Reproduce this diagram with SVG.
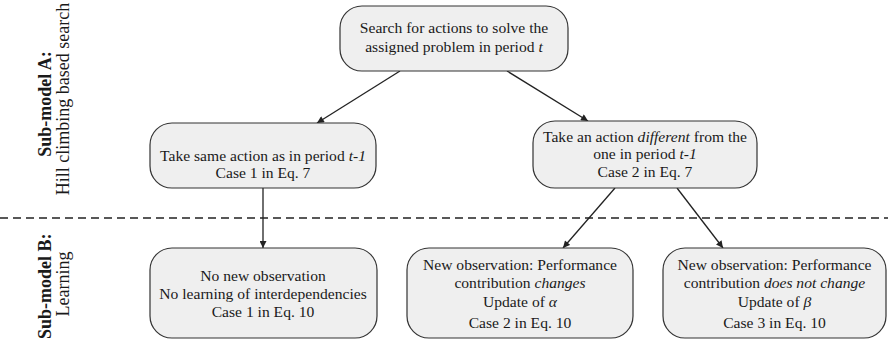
<svg xmlns="http://www.w3.org/2000/svg" width="888" height="340" viewBox="0 0 888 340">
<style>
.box{fill:#efefef;stroke:#333;stroke-width:1.2}
.t text{fill:#1a1a1a;text-anchor:middle}
.b{font-weight:bold}
.i{font-style:italic}
.c{stroke:#222;stroke-width:1.3;fill:none;marker-end:url(#ah)}
</style>
<defs>
<marker id="ah" viewBox="0 0 10 10" refX="10" refY="5" markerWidth="8" markerHeight="7" markerUnits="userSpaceOnUse" orient="auto">
<path d="M0,0 L10,5 L0,10 z" fill="#222"/>
</marker>
</defs>
<g class="t" font-family="Liberation Serif, serif" font-size="15.6">
<g id="labels" font-size="18">
<text class="b" transform="translate(51,104) rotate(-90)">Sub-model A:</text>
<text transform="translate(69,99) rotate(-90)">Hill climbing based search</text>
<text class="b" style="text-anchor:start" transform="translate(51,339) rotate(-90)">Sub-model B:</text>
<text transform="translate(69,284) rotate(-90)">Learning</text>
</g>
<line x1="0" y1="218" x2="888" y2="218" stroke="#222" stroke-width="1.3" stroke-dasharray="8,5"/>
<g id="connectors">
<line class="c" x1="400" y1="71" x2="317" y2="123"/>
<line class="c" x1="507" y1="71" x2="588" y2="121"/>
<line class="c" x1="263" y1="188" x2="263" y2="248"/>
<line class="c" x1="615" y1="188" x2="563" y2="248"/>
<line class="c" x1="677" y1="188" x2="723" y2="248"/>
</g>
<g id="n-top">
<rect class="box" x="340" y="6" width="228" height="65" rx="22"/>
<text x="454" y="33">Search for actions to solve the</text>
<text x="454" y="52">assigned problem in period <tspan class="i">t</tspan></text>
</g>
<g id="n-same">
<rect class="box" x="150" y="123" width="226" height="65" rx="22"/>
<text x="263" y="161">Take same action as in period <tspan class="i">t-1</tspan></text>
<text x="263" y="178">Case 1 in Eq. 7</text>
</g>
<g id="n-diff">
<rect class="box" x="533" y="121" width="224" height="67" rx="22"/>
<text x="645" y="142">Take an action <tspan class="i">different</tspan> from the</text>
<text x="645" y="159">one in period <tspan class="i">t-1</tspan></text>
<text x="645" y="177">Case 2 in Eq. 7</text>
</g>
<g id="n-case1">
<rect class="box" x="150" y="248" width="227" height="90" rx="22"/>
<text x="263" y="281">No new observation</text>
<text x="263" y="299">No learning of interdependencies</text>
<text x="263" y="317">Case 1 in Eq. 10</text>
</g>
<g id="n-case2">
<rect class="box" x="407" y="248" width="226" height="90" rx="22"/>
<text x="520" y="270">New observation: Performance</text>
<text x="520" y="288">contribution <tspan class="i">changes</tspan></text>
<text x="520" y="307">Update of <tspan class="i">α</tspan></text>
<text x="520" y="328">Case 2 in Eq. 10</text>
</g>
<g id="n-case3">
<rect class="box" x="663" y="248" width="223" height="90" rx="22"/>
<text x="774.5" y="270">New observation: Performance</text>
<text x="774.5" y="288">contribution <tspan class="i">does not change</tspan></text>
<text x="774.5" y="307">Update of <tspan class="i">β</tspan></text>
<text x="774.5" y="328">Case 3 in Eq. 10</text>
</g>
</g>
</svg>
